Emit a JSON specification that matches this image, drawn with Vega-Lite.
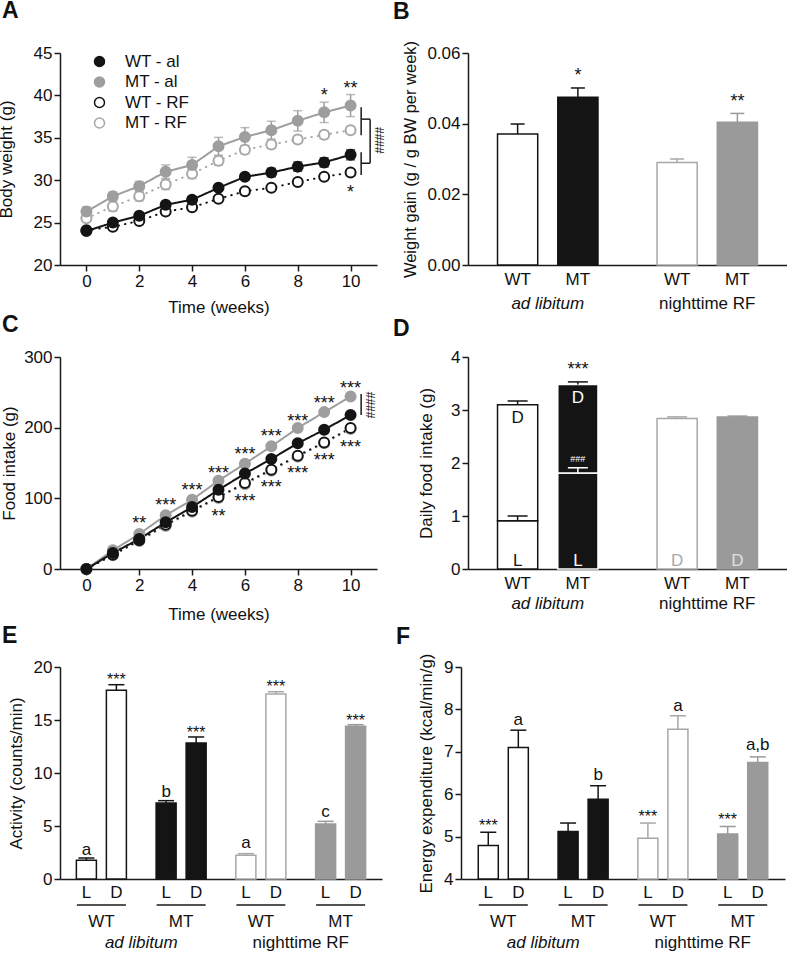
{
  "$schema": "https://vega.github.io/schema/vega-lite/v6.json",
  "padding": {"left": -3, "top": 0, "right": 0, "bottom": 0},
  "config": {
    "font": "Liberation Sans",
    "view": {"stroke": null},
    "axis": {"domainColor": "#1a1a1a", "domainWidth": 1.5, "tickColor": "#1a1a1a", "tickWidth": 1.5, "tickSize": 6, "labelFontSize": 17, "titleFontSize": 17, "titleFontWeight": "normal", "labelColor": "#111111", "titleColor": "#111111", "labelPadding": 2, "grid": false, "labelFont": "Liberation Sans", "titleFont": "Liberation Sans"},
    "title": {"font": "Liberation Sans"},
    "text": {"font": "Liberation Sans"}
  },
  "datasets": {
    "bw": [
      {"series": "MT - RF", "week": 0, "bw": 25.5, "err": 0.3}, {"series": "MT - RF", "week": 1, "bw": 26.9, "err": 0.55}, {"series": "MT - RF", "week": 2, "bw": 28.1, "err": 0.55}, {"series": "MT - RF", "week": 3, "bw": 29.5, "err": 0.6}, {"series": "MT - RF", "week": 4, "bw": 30.75, "err": 0.55}, {"series": "MT - RF", "week": 5, "bw": 32.3, "err": 0.55}, {"series": "MT - RF", "week": 6, "bw": 33.6, "err": 0.5}, {"series": "MT - RF", "week": 7, "bw": 34.2, "err": 0.45}, {"series": "MT - RF", "week": 8, "bw": 34.8, "err": 0.45}, {"series": "MT - RF", "week": 9, "bw": 35.35, "err": 0.45}, {"series": "MT - RF", "week": 10, "bw": 35.9, "err": 0.45},
      {"series": "WT - RF", "week": 0, "bw": 24.1, "err": 0.2}, {"series": "WT - RF", "week": 1, "bw": 24.5, "err": 0.2}, {"series": "WT - RF", "week": 2, "bw": 25.2, "err": 0.2}, {"series": "WT - RF", "week": 3, "bw": 26.3, "err": 0.2}, {"series": "WT - RF", "week": 4, "bw": 26.8, "err": 0.2}, {"series": "WT - RF", "week": 5, "bw": 27.8, "err": 0.2}, {"series": "WT - RF", "week": 6, "bw": 28.7, "err": 0.2}, {"series": "WT - RF", "week": 7, "bw": 29.1, "err": 0.2}, {"series": "WT - RF", "week": 8, "bw": 29.8, "err": 0.2}, {"series": "WT - RF", "week": 9, "bw": 30.4, "err": 0.2}, {"series": "WT - RF", "week": 10, "bw": 30.9, "err": 0.2},
      {"series": "MT - al", "week": 0, "bw": 26.3, "err": 0.55}, {"series": "MT - al", "week": 1, "bw": 28.1, "err": 0.5}, {"series": "MT - al", "week": 2, "bw": 29.3, "err": 0.55}, {"series": "MT - al", "week": 3, "bw": 31.0, "err": 0.8}, {"series": "MT - al", "week": 4, "bw": 31.8, "err": 0.9}, {"series": "MT - al", "week": 5, "bw": 34.0, "err": 1.05}, {"series": "MT - al", "week": 6, "bw": 35.1, "err": 1.1}, {"series": "MT - al", "week": 7, "bw": 35.9, "err": 1.05}, {"series": "MT - al", "week": 8, "bw": 37.0, "err": 1.2}, {"series": "MT - al", "week": 9, "bw": 38.0, "err": 1.2}, {"series": "MT - al", "week": 10, "bw": 38.8, "err": 1.3},
      {"series": "WT - al", "week": 0, "bw": 24.0, "err": 0.3}, {"series": "WT - al", "week": 1, "bw": 25.0, "err": 0.3}, {"series": "WT - al", "week": 2, "bw": 25.8, "err": 0.3}, {"series": "WT - al", "week": 3, "bw": 27.1, "err": 0.3}, {"series": "WT - al", "week": 4, "bw": 27.7, "err": 0.3}, {"series": "WT - al", "week": 5, "bw": 29.1, "err": 0.3}, {"series": "WT - al", "week": 6, "bw": 30.4, "err": 0.3}, {"series": "WT - al", "week": 7, "bw": 30.9, "err": 0.5}, {"series": "WT - al", "week": 8, "bw": 31.6, "err": 0.55}, {"series": "WT - al", "week": 9, "bw": 32.1, "err": 0.55}, {"series": "WT - al", "week": 10, "bw": 33.0, "err": 0.6}
    ],
    "bwStars": [
      {"week": 9, "y": 39.96, "label": "*"}, {"week": 10, "y": 40.8, "label": "**"}, {"week": 10, "y": 28.45, "label": "*"}
    ],
    "bwBracket": [
      {"x": 10.4, "x2": 10.4, "y": 35.3, "y2": 38.6}, {"x": 10.4, "x2": 10.4, "y": 30.6, "y2": 33.3},
      {"x": 10.4, "x2": 10.74, "y": 37.2, "y2": 37.2}, {"x": 10.4, "x2": 10.74, "y": 32.0, "y2": 32.0},
      {"x": 10.74, "x2": 10.74, "y": 32.0, "y2": 37.2}
    ],
    "bwHash": [{"week": 11.06, "y": 34.7, "label": "####"}],
    "food": [
      {"series": "MT - RF", "week": 0, "fi": 0}, {"series": "MT - RF", "week": 1, "fi": 19.5}, {"series": "MT - RF", "week": 2, "fi": 39.5}, {"series": "MT - RF", "week": 3, "fi": 61}, {"series": "MT - RF", "week": 4, "fi": 81}, {"series": "MT - RF", "week": 5, "fi": 100.5}, {"series": "MT - RF", "week": 6, "fi": 120}, {"series": "MT - RF", "week": 7, "fi": 139}, {"series": "MT - RF", "week": 8, "fi": 159}, {"series": "MT - RF", "week": 9, "fi": 178}, {"series": "MT - RF", "week": 10, "fi": 198},
      {"series": "WT - RF", "week": 0, "fi": 0}, {"series": "WT - RF", "week": 1, "fi": 20}, {"series": "WT - RF", "week": 2, "fi": 40.6}, {"series": "WT - RF", "week": 3, "fi": 62.7}, {"series": "WT - RF", "week": 4, "fi": 82.5}, {"series": "WT - RF", "week": 5, "fi": 102}, {"series": "WT - RF", "week": 6, "fi": 121.7}, {"series": "WT - RF", "week": 7, "fi": 140.6}, {"series": "WT - RF", "week": 8, "fi": 160.4}, {"series": "WT - RF", "week": 9, "fi": 179}, {"series": "WT - RF", "week": 10, "fi": 199.5},
      {"series": "MT - al", "week": 0, "fi": 0}, {"series": "MT - al", "week": 1, "fi": 26.4}, {"series": "MT - al", "week": 2, "fi": 49.5}, {"series": "MT - al", "week": 3, "fi": 76}, {"series": "MT - al", "week": 4, "fi": 98}, {"series": "MT - al", "week": 5, "fi": 125}, {"series": "MT - al", "week": 6, "fi": 149}, {"series": "MT - al", "week": 7, "fi": 173.6}, {"series": "MT - al", "week": 8, "fi": 199.5}, {"series": "MT - al", "week": 9, "fi": 222}, {"series": "MT - al", "week": 10, "fi": 244},
      {"series": "WT - al", "week": 0, "fi": 0}, {"series": "WT - al", "week": 1, "fi": 22.6}, {"series": "WT - al", "week": 2, "fi": 42.5}, {"series": "WT - al", "week": 3, "fi": 66}, {"series": "WT - al", "week": 4, "fi": 87.7}, {"series": "WT - al", "week": 5, "fi": 112}, {"series": "WT - al", "week": 6, "fi": 135}, {"series": "WT - al", "week": 7, "fi": 155.7}, {"series": "WT - al", "week": 8, "fi": 178}, {"series": "WT - al", "week": 9, "fi": 197}, {"series": "WT - al", "week": 10, "fi": 218}
    ],
    "foodStars": [
      {"week": 2, "y": 63.7, "label": "**"}, {"week": 3, "y": 89.1, "label": "***"}, {"week": 4, "y": 110.4, "label": "***"}, {"week": 5, "y": 134, "label": "***"}, {"week": 6, "y": 161.3, "label": "***"}, {"week": 7, "y": 186.4, "label": "***"}, {"week": 8, "y": 208.4, "label": "***"}, {"week": 9, "y": 233.9, "label": "***"}, {"week": 10, "y": 254.7, "label": "***"},
      {"week": 5, "y": 73.6, "label": "**"}, {"week": 6, "y": 95.2, "label": "***"}, {"week": 7, "y": 115, "label": "***"}, {"week": 8, "y": 134, "label": "***"}, {"week": 9, "y": 152.8, "label": "***"}, {"week": 10, "y": 170.8, "label": "***"}
    ],
    "foodBracket": [{"x": 10.4, "x2": 10.4, "y": 218, "y2": 247.6}],
    "foodHash": [{"week": 10.74, "y": 232, "label": "####"}],
    "gain": [
      {"cond": "ad libitum", "geno": "WT", "grp": "WT al", "gain": 0.0371, "hi": 0.0399},
      {"cond": "ad libitum", "geno": "MT", "grp": "MT al", "gain": 0.0475, "hi": 0.0501},
      {"cond": "nighttime RF", "geno": "WT", "grp": "WT RF", "gain": 0.0290, "hi": 0.0300},
      {"cond": "nighttime RF", "geno": "MT", "grp": "MT RF", "gain": 0.0404, "hi": 0.0429}
    ],
    "gainStars": [
      {"cond": "ad libitum", "geno": "MT", "y": 0.0535, "label": "*"},
      {"cond": "nighttime RF", "geno": "MT", "y": 0.0461, "label": "**"}
    ],
    "daily": [
      {"cond": "ad libitum", "geno": "WT", "grp": "WT al", "seg": "WT al L", "lo": 0, "hi": 0.91, "err": 1.0},
      {"cond": "ad libitum", "geno": "WT", "grp": "WT al", "seg": "WT al D", "lo": 0.91, "hi": 3.10, "err": 3.17},
      {"cond": "ad libitum", "geno": "MT", "grp": "MT al", "seg": "MT al L", "lo": 0, "hi": 1.81, "err": 1.91},
      {"cond": "ad libitum", "geno": "MT", "grp": "MT al", "seg": "MT al D", "lo": 1.81, "hi": 3.48, "err": 3.53},
      {"cond": "nighttime RF", "geno": "WT", "grp": "WT RF", "seg": "WT RF D", "lo": 0, "hi": 2.84, "err": 2.87},
      {"cond": "nighttime RF", "geno": "MT", "grp": "MT RF", "seg": "MT RF D", "lo": 0, "hi": 2.87, "err": 2.885}
    ],
    "dailyText": [
      {"cond": "ad libitum", "geno": "WT", "seg": "WT al D", "y": 2.85, "label": "D"},
      {"cond": "ad libitum", "geno": "WT", "seg": "WT al L", "y": 0.16, "label": "L"},
      {"cond": "ad libitum", "geno": "MT", "seg": "MT al D", "y": 3.22, "label": "D"},
      {"cond": "ad libitum", "geno": "MT", "seg": "MT al L", "y": 0.16, "label": "L"},
      {"cond": "nighttime RF", "geno": "WT", "seg": "WT RF D", "y": 0.16, "label": "D"},
      {"cond": "nighttime RF", "geno": "MT", "seg": "MT RF D", "y": 0.16, "label": "D"}
    ],
    "dailyMarks": [
      {"cond": "ad libitum", "geno": "MT", "y": 3.76, "label": "***", "kind": "star"},
      {"cond": "ad libitum", "geno": "MT", "y": 2.08, "label": "###", "kind": "hash"}
    ],
    "act": [
      {"pair": "WT al", "phase": "L", "v": 1.76, "hi": 1.98}, {"pair": "WT al", "phase": "D", "v": 17.8, "hi": 18.33},
      {"pair": "MT al", "phase": "L", "v": 7.17, "hi": 7.39}, {"pair": "MT al", "phase": "D", "v": 12.83, "hi": 13.4},
      {"pair": "WT RF", "phase": "L", "v": 2.23, "hi": 2.39}, {"pair": "WT RF", "phase": "D", "v": 17.45, "hi": 17.67},
      {"pair": "MT RF", "phase": "L", "v": 5.19, "hi": 5.44}, {"pair": "MT RF", "phase": "D", "v": 14.4, "hi": 14.56}
    ],
    "actText": [
      {"pair": "WT al", "phase": "D", "y": 18.77, "label": "***", "kind": "star"},
      {"pair": "MT al", "phase": "D", "y": 13.81, "label": "***", "kind": "star"},
      {"pair": "WT RF", "phase": "D", "y": 18.11, "label": "***", "kind": "star"},
      {"pair": "MT RF", "phase": "D", "y": 14.9, "label": "***", "kind": "star"},
      {"pair": "WT al", "phase": "L", "y": 2.74, "label": "a", "kind": "letter"},
      {"pair": "MT al", "phase": "L", "y": 8.24, "label": "b", "kind": "letter"},
      {"pair": "WT RF", "phase": "L", "y": 3.37, "label": "a", "kind": "letter"},
      {"pair": "MT RF", "phase": "L", "y": 6.35, "label": "c", "kind": "letter"}
    ],
    "ee": [
      {"pair": "WT al", "phase": "L", "v": 4.79, "hi": 5.10}, {"pair": "WT al", "phase": "D", "v": 7.10, "hi": 7.51},
      {"pair": "MT al", "phase": "L", "v": 5.12, "hi": 5.32}, {"pair": "MT al", "phase": "D", "v": 5.88, "hi": 6.20},
      {"pair": "WT RF", "phase": "L", "v": 4.96, "hi": 5.32}, {"pair": "WT RF", "phase": "D", "v": 7.53, "hi": 7.85},
      {"pair": "MT RF", "phase": "L", "v": 5.06, "hi": 5.24}, {"pair": "MT RF", "phase": "D", "v": 6.75, "hi": 6.88}
    ],
    "eeText": [
      {"pair": "WT al", "phase": "L", "y": 5.24, "label": "***", "kind": "star"},
      {"pair": "WT RF", "phase": "L", "y": 5.47, "label": "***", "kind": "star"},
      {"pair": "MT RF", "phase": "L", "y": 5.40, "label": "***", "kind": "star"},
      {"pair": "WT al", "phase": "D", "y": 7.75, "label": "a", "kind": "letter"},
      {"pair": "MT al", "phase": "D", "y": 6.46, "label": "b", "kind": "letter"},
      {"pair": "WT RF", "phase": "D", "y": 8.08, "label": "a", "kind": "letter"},
      {"pair": "MT RF", "phase": "D", "y": 7.16, "label": "a,b", "kind": "letter"}
    ],
    "condLabels": [
      {"pair": "WT al", "label": "ad libitum"},
      {"pair": "WT RF", "label": "nighttime RF"}
    ]
  },
  "bounds": "flush",
  "align": "none",
  "columns": 2,
  "spacing": {"row": 98, "column": 91},
  "resolve": {"scale": {"color": "independent", "fill": "independent", "stroke": "independent", "strokeDash": "independent", "xOffset": "independent"}},
  "concat": [
    {
      "width": 317, "height": 212,
      "title": {"text": "A", "anchor": "start", "frame": "group", "dx": -58, "offset": 3, "baseline": "alphabetic", "fontSize": 23, "fontWeight": "bold", "color": "#111111"},
      "data": {"name": "bw"},
      "encoding": {
        "x": {"field": "week", "type": "quantitative", "scale": {"domain": [-1, 11], "nice": false, "zero": false}, "axis": {"values": [0, 2, 4, 6, 8, 10], "title": "Time (weeks)", "titlePadding": 10}},
        "y": {"field": "bw", "type": "quantitative", "scale": {"domain": [20, 45], "nice": false, "zero": false}, "axis": {"values": [20, 25, 30, 35, 40, 45], "title": "Body weight (g)", "titlePadding": 18}}
      },
      "resolve": {"scale": {"color": "independent", "fill": "independent", "stroke": "independent", "strokeDash": "independent"}},
      "layer": [
        {
          "mark": {"type": "line", "strokeWidth": 2, "strokeCap": "round"},
          "encoding": {
            "stroke": {"field": "series", "type": "nominal", "scale": {"domain": ["WT - al", "MT - al", "WT - RF", "MT - RF"], "range": ["#141414", "#9e9e9e", "#141414", "#a8a8a8"]}, "legend": null},
            "strokeDash": {"field": "series", "type": "nominal", "scale": {"domain": ["WT - al", "MT - al", "WT - RF", "MT - RF"], "range": [[1, 0], [1, 0], [0.5, 6], [0.5, 6]]}, "legend": null}
          }
        },
        {
          "mark": {"type": "errorbar", "ticks": true, "thickness": 1.5, "size": 9},
          "encoding": {
            "yError": {"field": "err"},
            "color": {"field": "series", "type": "nominal", "scale": {"domain": ["WT - al", "MT - al", "WT - RF", "MT - RF"], "range": ["#141414", "#9e9e9e", "#141414", "#a8a8a8"]}, "legend": null}
          }
        },
        {
          "mark": {"type": "point", "shape": "circle", "size": 100, "strokeWidth": 2, "opacity": 1},
          "encoding": {
            "fill": {"field": "series", "type": "nominal", "scale": {"domain": ["WT - al", "MT - al", "WT - RF", "MT - RF"], "range": ["#141414", "#9e9e9e", "#ffffff", "#ffffff"]},
              "legend": {
                "title": null, "orient": "none", "legendX": 31, "legendY": 0, "padding": 0,
                "labelFontSize": 17, "labelColor": "#111111", "labelFont": "Liberation Sans", "labelOffset": 17, "rowPadding": 2.5, "symbolSize": 100,
                "encode": {"symbols": {
                  "shape": {"value": {"expr": "datum.value == 'WT - RF' || datum.value == 'MT - RF' ? 'M-1,0L-0.96,0M-0.66,0L-0.62,0M0.62,0L0.66,0M0.96,0L1,0M-0.42,0A0.42,0.42,0,1,1,0.42,0A0.42,0.42,0,1,1,-0.42,0Z' : 'M-1,0L-0.42,0M0.42,0L1,0M-0.42,0A0.42,0.42,0,1,1,0.42,0A0.42,0.42,0,1,1,-0.42,0Z'"}},
                  "size": {"value": 676},
                  "stroke": {"value": {"expr": "datum.value == 'WT - al' || datum.value == 'WT - RF' ? '#141414' : '#a0a0a0'"}},
                  "fill": {"value": {"expr": "datum.value == 'WT - al' ? '#141414' : datum.value == 'MT - al' ? '#9e9e9e' : '#ffffff'"}},
                  "strokeWidth": {"value": 2},
                  "strokeCap": {"value": "round"},
                  "opacity": {"value": 1}
                }}
              }},
            "stroke": {"field": "series", "type": "nominal", "scale": {"domain": ["WT - al", "MT - al", "WT - RF", "MT - RF"], "range": ["#141414", "#9e9e9e", "#141414", "#a8a8a8"]}, "legend": null}
          }
        },
        {
          "data": {"name": "bwStars"},
          "mark": {"type": "text", "fontSize": 18, "baseline": "middle", "align": "center", "color": "#111111"},
          "encoding": {"x": {"field": "week", "type": "quantitative"}, "y": {"field": "y", "type": "quantitative"}, "text": {"field": "label"}}
        },
        {
          "data": {"name": "bwBracket"},
          "mark": {"type": "rule", "strokeWidth": 1.5, "color": "#1a1a1a"},
          "encoding": {"x": {"field": "x", "type": "quantitative"}, "x2": {"field": "x2"}, "y": {"field": "y", "type": "quantitative"}, "y2": {"field": "y2"}}
        },
        {
          "data": {"name": "bwHash"},
          "mark": {"type": "text", "fontSize": 12, "angle": 90, "baseline": "middle", "align": "center", "color": "#111111"},
          "encoding": {"x": {"field": "week", "type": "quantitative"}, "y": {"field": "y", "type": "quantitative"}, "text": {"field": "label"}}
        }
      ]
    },
    {
      "width": 319, "height": 212,
      "title": {"text": "B", "anchor": "start", "frame": "group", "dx": -75, "offset": -2, "baseline": "alphabetic", "fontSize": 23, "fontWeight": "bold", "color": "#111111"},
      "data": {"name": "gain"},
      "encoding": {
        "x": {"field": "cond", "type": "nominal", "scale": {"domain": ["ad libitum", "nighttime RF"], "paddingInner": 0, "paddingOuter": 0}, "axis": {"title": null, "ticks": false, "tickSize": 0, "labelAngle": 0, "labelPadding": 30, "labelFontStyle": {"condition": {"test": "datum.value == 'ad libitum'", "value": "italic"}, "value": "normal"}}},
        "xOffset": {"field": "geno", "type": "nominal", "scale": {"domain": ["WT", "MT"], "range": [0, 159.5], "paddingInner": 0.333, "paddingOuter": 0.49}}
      },
      "resolve": {"scale": {"color": "independent", "fill": "independent", "stroke": "independent"}},
      "layer": [
        {
          "mark": {"type": "bar", "strokeWidth": 1.5, "opacity": 1},
          "encoding": {
            "y": {"field": "gain", "type": "quantitative", "stack": null, "scale": {"domain": [0, 0.06], "nice": false}, "axis": {"values": [0, 0.02, 0.04, 0.06], "format": ".2f", "title": "Weight gain (g / g BW per week)", "titleFontSize": 16.5, "titlePadding": 8}},
            "fill": {"field": "grp", "type": "nominal", "scale": {"domain": ["WT al", "MT al", "WT RF", "MT RF"], "range": ["#ffffff", "#141414", "#ffffff", "#9a9a9a"]}, "legend": null},
            "stroke": {"field": "grp", "type": "nominal", "scale": {"domain": ["WT al", "MT al", "WT RF", "MT RF"], "range": ["#141414", "#141414", "#a8a8a8", "#9a9a9a"]}, "legend": null}
          }
        },
        {
          "mark": {"type": "rule", "strokeWidth": 1.5},
          "encoding": {
            "y": {"field": "gain", "type": "quantitative"}, "y2": {"field": "hi"},
            "color": {"field": "grp", "type": "nominal", "scale": {"domain": ["WT al", "MT al", "WT RF", "MT RF"], "range": ["#141414", "#141414", "#a8a8a8", "#9a9a9a"]}, "legend": null}
          }
        },
        {
          "mark": {"type": "tick", "orient": "horizontal", "size": 14, "thickness": 1.5, "opacity": 1},
          "encoding": {
            "y": {"field": "hi", "type": "quantitative"},
            "color": {"field": "grp", "type": "nominal", "scale": {"domain": ["WT al", "MT al", "WT RF", "MT RF"], "range": ["#141414", "#141414", "#a8a8a8", "#9a9a9a"]}, "legend": null}
          }
        },
        {
          "mark": {"type": "text", "dy": 15, "fontSize": 17, "baseline": "middle", "align": "center", "color": "#111111"},
          "encoding": {"y": {"datum": 0}, "text": {"field": "geno"}}
        },
        {
          "data": {"name": "gainStars"},
          "mark": {"type": "text", "fontSize": 18, "baseline": "middle", "align": "center", "color": "#111111"},
          "encoding": {"y": {"field": "y", "type": "quantitative"}, "text": {"field": "label"}}
        }
      ]
    },
    {
      "width": 317, "height": 206,
      "title": {"text": "C", "anchor": "start", "frame": "group", "dx": -58, "offset": -7, "baseline": "alphabetic", "fontSize": 23, "fontWeight": "bold", "color": "#111111"},
      "data": {"name": "food"},
      "encoding": {
        "x": {"field": "week", "type": "quantitative", "scale": {"domain": [-1, 11], "nice": false, "zero": false}, "axis": {"values": [0, 2, 4, 6, 8, 10], "title": "Time (weeks)", "titlePadding": 13}},
        "y": {"field": "fi", "type": "quantitative", "scale": {"domain": [0, 300], "nice": false, "range": [206, -6]}, "axis": {"values": [0, 100, 200, 300], "title": "Food intake (g)", "titlePadding": 5}}
      },
      "resolve": {"scale": {"color": "independent", "fill": "independent", "stroke": "independent", "strokeDash": "independent"}},
      "layer": [
        {
          "mark": {"type": "line", "strokeWidth": 2, "strokeCap": "round"},
          "encoding": {
            "stroke": {"field": "series", "type": "nominal", "scale": {"domain": ["WT - al", "MT - al", "WT - RF", "MT - RF"], "range": ["#141414", "#9e9e9e", "#141414", "#a8a8a8"]}, "legend": null},
            "strokeDash": {"field": "series", "type": "nominal", "scale": {"domain": ["WT - al", "MT - al", "WT - RF", "MT - RF"], "range": [[1, 0], [1, 0], [0.5, 6], [0.5, 6]]}, "legend": null}
          }
        },
        {
          "mark": {"type": "point", "shape": "circle", "size": 100, "strokeWidth": 2, "opacity": 1},
          "encoding": {
            "fill": {"field": "series", "type": "nominal", "scale": {"domain": ["WT - al", "MT - al", "WT - RF", "MT - RF"], "range": ["#141414", "#9e9e9e", "#ffffff", "#ffffff"]}, "legend": null},
            "stroke": {"field": "series", "type": "nominal", "scale": {"domain": ["WT - al", "MT - al", "WT - RF", "MT - RF"], "range": ["#141414", "#9e9e9e", "#141414", "#a8a8a8"]}, "legend": null}
          }
        },
        {
          "data": {"name": "foodStars"},
          "mark": {"type": "text", "fontSize": 18, "baseline": "middle", "align": "center", "color": "#111111"},
          "encoding": {"x": {"field": "week", "type": "quantitative"}, "y": {"field": "y", "type": "quantitative"}, "text": {"field": "label"}}
        },
        {
          "data": {"name": "foodBracket"},
          "mark": {"type": "rule", "strokeWidth": 1.5, "color": "#1a1a1a"},
          "encoding": {"x": {"field": "x", "type": "quantitative"}, "x2": {"field": "x2"}, "y": {"field": "y", "type": "quantitative"}, "y2": {"field": "y2"}}
        },
        {
          "data": {"name": "foodHash"},
          "mark": {"type": "text", "fontSize": 12, "angle": 90, "baseline": "middle", "align": "center", "color": "#111111"},
          "encoding": {"x": {"field": "week", "type": "quantitative"}, "y": {"field": "y", "type": "quantitative"}, "text": {"field": "label"}}
        }
      ]
    },
    {
      "width": 319, "height": 206,
      "title": {"text": "D", "anchor": "start", "frame": "group", "dx": -75, "offset": -11, "baseline": "alphabetic", "fontSize": 23, "fontWeight": "bold", "color": "#111111"},
      "data": {"name": "daily"},
      "encoding": {
        "x": {"field": "cond", "type": "nominal", "scale": {"domain": ["ad libitum", "nighttime RF"], "paddingInner": 0, "paddingOuter": 0}, "axis": {"title": null, "ticks": false, "tickSize": 0, "labelAngle": 0, "labelPadding": 26, "labelFontStyle": {"condition": {"test": "datum.value == 'ad libitum'", "value": "italic"}, "value": "normal"}}},
        "xOffset": {"field": "geno", "type": "nominal", "scale": {"domain": ["WT", "MT"], "range": [0, 159.5], "paddingInner": 0.333, "paddingOuter": 0.49}}
      },
      "resolve": {"scale": {"color": "independent", "fill": "independent", "stroke": "independent"}},
      "layer": [
        {
          "mark": {"type": "bar", "strokeWidth": 1.5, "opacity": 1},
          "encoding": {
            "y": {"field": "lo", "type": "quantitative", "scale": {"domain": [0, 4], "nice": false, "range": [206, -6]}, "axis": {"values": [0, 1, 2, 3, 4], "format": "d", "title": "Daily food intake (g)", "titlePadding": 15}},
            "y2": {"field": "hi"},
            "fill": {"field": "grp", "type": "nominal", "scale": {"domain": ["WT al", "MT al", "WT RF", "MT RF"], "range": ["#ffffff", "#141414", "#ffffff", "#9a9a9a"]}, "legend": null},
            "stroke": {"field": "grp", "type": "nominal", "scale": {"domain": ["WT al", "MT al", "WT RF", "MT RF"], "range": ["#141414", "#ffffff", "#a8a8a8", "#9a9a9a"]}, "legend": null}
          }
        },
        {
          "mark": {"type": "rule", "strokeWidth": 1.5},
          "encoding": {
            "y": {"field": "hi", "type": "quantitative"}, "y2": {"field": "err"},
            "color": {"field": "seg", "type": "nominal", "scale": {"domain": ["WT al L", "WT al D", "MT al L", "MT al D", "WT RF D", "MT RF D"], "range": ["#141414", "#141414", "#ffffff", "#141414", "#a8a8a8", "#9a9a9a"]}, "legend": null}
          }
        },
        {
          "mark": {"type": "tick", "orient": "horizontal", "size": 20, "thickness": 1.5, "opacity": 1},
          "encoding": {
            "y": {"field": "err", "type": "quantitative"},
            "color": {"field": "seg", "type": "nominal", "scale": {"domain": ["WT al L", "WT al D", "MT al L", "MT al D", "WT RF D", "MT RF D"], "range": ["#141414", "#141414", "#ffffff", "#141414", "#a8a8a8", "#9a9a9a"]}, "legend": null}
          }
        },
        {
          "data": {"name": "dailyText"},
          "mark": {"type": "text", "fontSize": 17, "baseline": "middle", "align": "center"},
          "encoding": {
            "y": {"field": "y", "type": "quantitative"}, "text": {"field": "label"},
            "color": {"field": "seg", "type": "nominal", "scale": {"domain": ["WT al L", "WT al D", "MT al L", "MT al D", "WT RF D", "MT RF D"], "range": ["#141414", "#141414", "#ffffff", "#ffffff", "#a8a8a8", "#e0e0e0"]}, "legend": null}
          }
        },
        {
          "data": {"name": "dailyMarks"},
          "transform": [{"filter": "datum.kind == 'star'"}],
          "mark": {"type": "text", "fontSize": 18, "baseline": "middle", "align": "center", "color": "#111111"},
          "encoding": {"y": {"field": "y", "type": "quantitative"}, "text": {"field": "label"}}
        },
        {
          "data": {"name": "dailyMarks"},
          "transform": [{"filter": "datum.kind == 'hash'"}],
          "mark": {"type": "text", "fontSize": 9, "baseline": "middle", "align": "center", "color": "#ffffff"},
          "encoding": {"y": {"field": "y", "type": "quantitative"}, "text": {"field": "label"}}
        },
        {
          "data": {"name": "gain"},
          "mark": {"type": "text", "dy": 15, "fontSize": 17, "baseline": "middle", "align": "center", "color": "#111111"},
          "encoding": {"y": {"datum": 0}, "text": {"field": "geno"}}
        }
      ]
    },
    {
      "width": 307, "height": 212,
      "title": {"text": "E", "anchor": "start", "frame": "group", "dx": -58, "offset": -8, "baseline": "alphabetic", "fontSize": 23, "fontWeight": "bold", "color": "#111111"},
      "data": {"name": "act"},
      "encoding": {
        "x": {"field": "pair", "type": "nominal", "scale": {"domain": ["WT al", "MT al", "WT RF", "MT RF"], "range": [0, 322], "paddingInner": 0, "paddingOuter": 0.019}, "axis": {"title": null, "ticks": false, "tickSize": 0, "labelAngle": 0, "labelPadding": 34, "labelExpr": "split(datum.value, ' ')[0]"}}
      },
      "resolve": {"scale": {"color": "independent", "fill": "independent", "stroke": "independent"}},
      "layer": [
        {
          "mark": {"type": "bar", "strokeWidth": 1.5, "opacity": 1},
          "encoding": {
            "xOffset": {"field": "phase", "type": "nominal", "scale": {"domain": ["L", "D"], "range": [0, 79.74], "paddingInner": 0.333, "paddingOuter": 0.495}},
            "y": {"field": "v", "type": "quantitative", "stack": null, "scale": {"domain": [0, 20], "nice": false}, "axis": {"values": [0, 5, 10, 15, 20], "title": "Activity (counts/min)", "titlePadding": 8}},
            "fill": {"field": "pair", "type": "nominal", "scale": {"domain": ["WT al", "MT al", "WT RF", "MT RF"], "range": ["#ffffff", "#141414", "#ffffff", "#9a9a9a"]}, "legend": null},
            "stroke": {"field": "pair", "type": "nominal", "scale": {"domain": ["WT al", "MT al", "WT RF", "MT RF"], "range": ["#141414", "#141414", "#a8a8a8", "#9a9a9a"]}, "legend": null}
          }
        },
        {
          "mark": {"type": "rule", "strokeWidth": 1.5},
          "encoding": {
            "xOffset": {"field": "phase", "type": "nominal", "scale": {"domain": ["L", "D"], "range": [0, 79.74], "paddingInner": 0.333, "paddingOuter": 0.495}},
            "y": {"field": "v", "type": "quantitative"}, "y2": {"field": "hi"},
            "color": {"field": "pair", "type": "nominal", "scale": {"domain": ["WT al", "MT al", "WT RF", "MT RF"], "range": ["#141414", "#141414", "#a8a8a8", "#9a9a9a"]}, "legend": null}
          }
        },
        {
          "mark": {"type": "tick", "orient": "horizontal", "size": 16, "thickness": 1.5, "opacity": 1},
          "encoding": {
            "xOffset": {"field": "phase", "type": "nominal", "scale": {"domain": ["L", "D"], "range": [0, 79.74], "paddingInner": 0.333, "paddingOuter": 0.495}},
            "y": {"field": "hi", "type": "quantitative"},
            "color": {"field": "pair", "type": "nominal", "scale": {"domain": ["WT al", "MT al", "WT RF", "MT RF"], "range": ["#141414", "#141414", "#a8a8a8", "#9a9a9a"]}, "legend": null}
          }
        },
        {
          "mark": {"type": "text", "dy": 14, "fontSize": 17, "baseline": "middle", "align": "center", "color": "#111111"},
          "encoding": {
            "xOffset": {"field": "phase", "type": "nominal", "scale": {"domain": ["L", "D"], "range": [0, 79.74], "paddingInner": 0.333, "paddingOuter": 0.495}},
            "y": {"datum": 0}, "text": {"field": "phase"}
          }
        },
        {
          "transform": [{"filter": "datum.phase == 'L'"}],
          "mark": {"type": "tick", "orient": "horizontal", "size": 49, "thickness": 1.5, "yOffset": 26, "color": "#1a1a1a", "opacity": 1},
          "encoding": {"y": {"datum": 0}}
        },
        {
          "data": {"name": "condLabels"},
          "transform": [{"filter": "datum.label == 'ad libitum'"}],
          "mark": {"type": "text", "dy": 64, "fontSize": 17, "fontStyle": "italic", "baseline": "middle", "align": "center", "color": "#111111"},
          "encoding": {"x": {"field": "pair", "type": "nominal", "bandPosition": 1}, "y": {"datum": 0}, "text": {"field": "label"}}
        },
        {
          "data": {"name": "condLabels"},
          "transform": [{"filter": "datum.label != 'ad libitum'"}],
          "mark": {"type": "text", "dy": 64, "fontSize": 17, "baseline": "middle", "align": "center", "color": "#111111"},
          "encoding": {"x": {"field": "pair", "type": "nominal", "bandPosition": 1}, "y": {"datum": 0}, "text": {"field": "label"}}
        },
        {
          "data": {"name": "actText"},
          "transform": [{"filter": "datum.kind == 'star'"}],
          "mark": {"type": "text", "fontSize": 16, "baseline": "middle", "align": "center", "color": "#111111"},
          "encoding": {
            "xOffset": {"field": "phase", "type": "nominal", "scale": {"domain": ["L", "D"], "range": [0, 79.74], "paddingInner": 0.333, "paddingOuter": 0.495}},
            "y": {"field": "y", "type": "quantitative"}, "text": {"field": "label"}
          }
        },
        {
          "data": {"name": "actText"},
          "transform": [{"filter": "datum.kind == 'letter'"}],
          "mark": {"type": "text", "fontSize": 17, "baseline": "middle", "align": "center", "color": "#111111"},
          "encoding": {
            "xOffset": {"field": "phase", "type": "nominal", "scale": {"domain": ["L", "D"], "range": [0, 79.74], "paddingInner": 0.333, "paddingOuter": 0.495}},
            "y": {"field": "y", "type": "quantitative"}, "text": {"field": "label"}
          }
        }
      ]
    },
    {
      "width": 317, "height": 212,
      "title": {"text": "F", "anchor": "start", "frame": "group", "dx": -72, "offset": -14, "baseline": "alphabetic", "fontSize": 23, "fontWeight": "bold", "color": "#111111"},
      "data": {"name": "ee"},
      "encoding": {
        "x": {"field": "pair", "type": "nominal", "scale": {"domain": ["WT al", "MT al", "WT RF", "MT RF"], "range": [-7, 317], "paddingInner": 0, "paddingOuter": 0.03}, "axis": {"title": null, "ticks": false, "tickSize": 0, "labelAngle": 0, "labelPadding": 34, "labelExpr": "split(datum.value, ' ')[0]"}}
      },
      "resolve": {"scale": {"color": "independent", "fill": "independent", "stroke": "independent"}},
      "layer": [
        {
          "mark": {"type": "bar", "strokeWidth": 1.5, "opacity": 1},
          "encoding": {
            "xOffset": {"field": "phase", "type": "nominal", "scale": {"domain": ["L", "D"], "range": [0, 79.8], "paddingInner": 0.333, "paddingOuter": 0.495}},
            "y": {"field": "v", "type": "quantitative", "stack": null, "scale": {"domain": [4, 9], "nice": false, "zero": false}, "axis": {"values": [4, 5, 6, 7, 8, 9], "title": "Energy expenditure (kcal/min/g)", "titlePadding": 8, "offset": 7}},
            "y2": {"datum": 4},
            "fill": {"field": "pair", "type": "nominal", "scale": {"domain": ["WT al", "MT al", "WT RF", "MT RF"], "range": ["#ffffff", "#141414", "#ffffff", "#9a9a9a"]}, "legend": null},
            "stroke": {"field": "pair", "type": "nominal", "scale": {"domain": ["WT al", "MT al", "WT RF", "MT RF"], "range": ["#141414", "#141414", "#a8a8a8", "#9a9a9a"]}, "legend": null}
          }
        },
        {
          "mark": {"type": "rule", "strokeWidth": 1.5},
          "encoding": {
            "xOffset": {"field": "phase", "type": "nominal", "scale": {"domain": ["L", "D"], "range": [0, 79.8], "paddingInner": 0.333, "paddingOuter": 0.495}},
            "y": {"field": "v", "type": "quantitative"}, "y2": {"field": "hi"},
            "color": {"field": "pair", "type": "nominal", "scale": {"domain": ["WT al", "MT al", "WT RF", "MT RF"], "range": ["#141414", "#141414", "#a8a8a8", "#9a9a9a"]}, "legend": null}
          }
        },
        {
          "mark": {"type": "tick", "orient": "horizontal", "size": 16, "thickness": 1.5, "opacity": 1},
          "encoding": {
            "xOffset": {"field": "phase", "type": "nominal", "scale": {"domain": ["L", "D"], "range": [0, 79.8], "paddingInner": 0.333, "paddingOuter": 0.495}},
            "y": {"field": "hi", "type": "quantitative"},
            "color": {"field": "pair", "type": "nominal", "scale": {"domain": ["WT al", "MT al", "WT RF", "MT RF"], "range": ["#141414", "#141414", "#a8a8a8", "#9a9a9a"]}, "legend": null}
          }
        },
        {
          "mark": {"type": "text", "dy": 14, "fontSize": 17, "baseline": "middle", "align": "center", "color": "#111111"},
          "encoding": {
            "xOffset": {"field": "phase", "type": "nominal", "scale": {"domain": ["L", "D"], "range": [0, 79.8], "paddingInner": 0.333, "paddingOuter": 0.495}},
            "y": {"datum": 4}, "text": {"field": "phase"}
          }
        },
        {
          "transform": [{"filter": "datum.phase == 'L'"}],
          "mark": {"type": "tick", "orient": "horizontal", "size": 49, "thickness": 1.5, "yOffset": 26, "color": "#1a1a1a", "opacity": 1},
          "encoding": {"y": {"datum": 4}}
        },
        {
          "data": {"name": "condLabels"},
          "transform": [{"filter": "datum.label == 'ad libitum'"}],
          "mark": {"type": "text", "dy": 64, "fontSize": 17, "fontStyle": "italic", "baseline": "middle", "align": "center", "color": "#111111"},
          "encoding": {"x": {"field": "pair", "type": "nominal", "bandPosition": 1}, "y": {"datum": 4}, "text": {"field": "label"}}
        },
        {
          "data": {"name": "condLabels"},
          "transform": [{"filter": "datum.label != 'ad libitum'"}],
          "mark": {"type": "text", "dy": 64, "fontSize": 17, "baseline": "middle", "align": "center", "color": "#111111"},
          "encoding": {"x": {"field": "pair", "type": "nominal", "bandPosition": 1}, "y": {"datum": 4}, "text": {"field": "label"}}
        },
        {
          "data": {"name": "eeText"},
          "transform": [{"filter": "datum.kind == 'star'"}],
          "mark": {"type": "text", "fontSize": 16, "baseline": "middle", "align": "center", "color": "#111111"},
          "encoding": {
            "xOffset": {"field": "phase", "type": "nominal", "scale": {"domain": ["L", "D"], "range": [0, 79.8], "paddingInner": 0.333, "paddingOuter": 0.495}},
            "y": {"field": "y", "type": "quantitative"}, "text": {"field": "label"}
          }
        },
        {
          "data": {"name": "eeText"},
          "transform": [{"filter": "datum.kind == 'letter'"}],
          "mark": {"type": "text", "fontSize": 17, "baseline": "middle", "align": "center", "color": "#111111"},
          "encoding": {
            "xOffset": {"field": "phase", "type": "nominal", "scale": {"domain": ["L", "D"], "range": [0, 79.8], "paddingInner": 0.333, "paddingOuter": 0.495}},
            "y": {"field": "y", "type": "quantitative"}, "text": {"field": "label"}
          }
        }
      ]
    }
  ]
}
